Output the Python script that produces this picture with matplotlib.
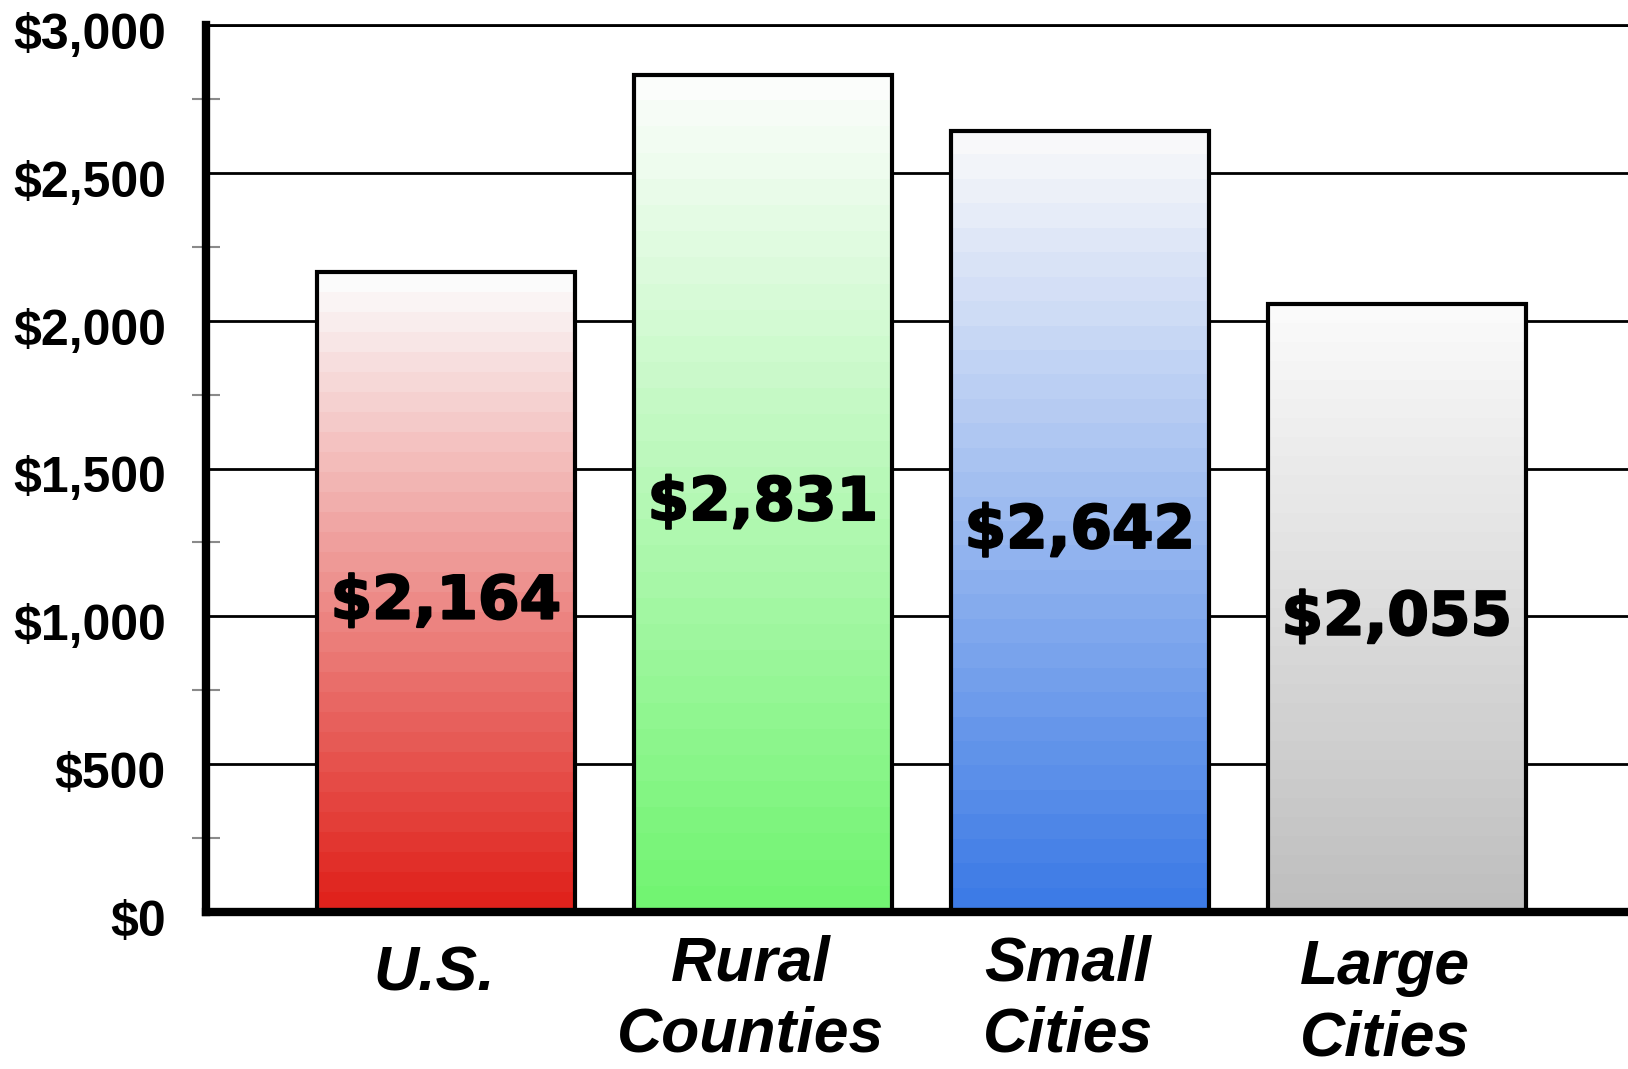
import numpy as np
import matplotlib
matplotlib.use("Agg")
import matplotlib.pyplot as plt
import matplotlib.patheffects as pe
from matplotlib.colors import LinearSegmentedColormap
from matplotlib.transforms import ScaledTranslation
from matplotlib.ticker import MultipleLocator, FixedLocator

# Data
categories = ["U.S.", "Rural\nCounties", "Small\nCities", "Large\nCities"]
values = [2164, 2831, 2642, 2055]
top_colors = ["#fbfbfb", "#fbfdfb", "#f8f8fa", "#fafafa"]
bottom_colors = ["#e0221c", "#72f472", "#3d7be6", "#bfbfbf"]
y_ticks = [0, 500, 1000, 1500, 2000, 2500, 3000]
y_tick_labels = ["$0", "$500", "$1,000", "$1,500", "$2,000", "$2,500", "$3,000"]

W, H = 1628, 1069
fig = plt.figure(figsize=(W / 100, H / 100), dpi=100)
fig.patch.set_facecolor("white")
ax = fig.add_axes([206 / W, 157 / H, 1 - 206 / W, 887 / H])

x = np.arange(len(categories))
bar_width = 0.816
n_steps = 32

# Gradient fill for every bar, white at the top fading into its colour
for xi, v, c_top, c_bot in zip(x, values, top_colors, bottom_colors):
    cmap = LinearSegmentedColormap.from_list("grad", [c_bot, c_top])
    grad = np.linspace(0, 1, n_steps)[:, None]
    ax.imshow(grad, cmap=cmap, origin="lower", aspect="auto",
              interpolation="nearest",
              extent=[xi - bar_width / 2, xi + bar_width / 2, 0, v], zorder=2)

ax.bar(x, values, width=bar_width, facecolor="none", edgecolor="black",
       linewidth=3, zorder=3)

# Value labels inside each bar
val_offset = ScaledTranslation(0, -10 / 100, fig.dpi_scale_trans)
for xi, v in zip(x, values):
    ax.text(xi, v / 2, f"${v:,}", ha="center", va="center",
            fontsize=43, fontweight="bold", family="DejaVu Sans",
            color="black", zorder=4, transform=ax.transData + val_offset,
            path_effects=[pe.withStroke(linewidth=1.5, foreground="black")])

ax.set_xlim(-0.757, 3.729)
ax.set_ylim(0, 3000)

# Axes styling
for side in ("left", "bottom"):
    ax.spines[side].set_linewidth(6)
    ax.spines[side].set_color("black")
ax.spines["top"].set_linewidth(2)
ax.spines["top"].set_color("black")
ax.spines["right"].set_visible(False)

ax.yaxis.set_major_locator(FixedLocator(y_ticks))
ax.set_yticklabels(y_tick_labels, family="Liberation Sans", fontweight="bold",
                   fontsize=36)
ax.yaxis.set_minor_locator(MultipleLocator(250))
ax.tick_params(axis="y", which="major", length=0, pad=29)
ax.tick_params(axis="y", which="minor", direction="inout", length=20,
               width=1.5, color="#8a8a8a")
ax.yaxis.grid(True, which="major", color="black", linewidth=2)
ax.set_axisbelow(True)

ytick_offset = ScaledTranslation(0, -6 / 100, fig.dpi_scale_trans)
for lab in ax.get_yticklabels():
    lab.set_transform(lab.get_transform() + ytick_offset)

ax.set_xticks(x)
ax.set_xticklabels(categories, family="Liberation Sans", fontweight="bold",
                   fontstyle="italic", fontsize=45, linespacing=1.27)
ax.tick_params(axis="x", length=0, pad=16)
# Small per-label nudges (pixels) for the category names
label_dy = [-10, 0, 0, -4]
for lab, dy in zip(ax.get_xticklabels(), label_dy):
    shift = ScaledTranslation(-12 / 100, dy / 100, fig.dpi_scale_trans)
    lab.set_transform(lab.get_transform() + shift)
    lab.set_verticalalignment("top")

fig.savefig("out.png", dpi=100, facecolor="white")
